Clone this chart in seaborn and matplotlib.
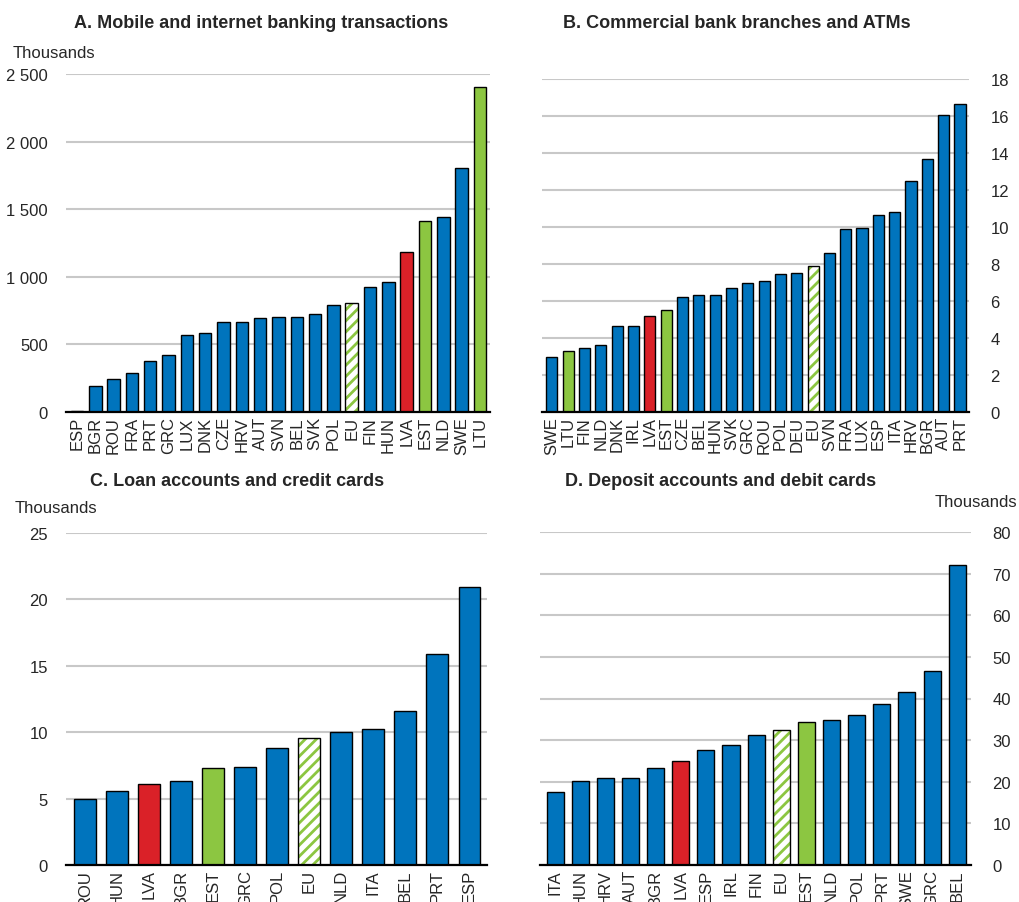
import matplotlib
matplotlib.use("Agg")
import matplotlib.pyplot as plt
import matplotlib.ticker as mticker
from matplotlib.patches import Rectangle
import seaborn as sns

# Panel A: mobile and internet banking transactions (thousands)
a_countries = ['ESP', 'BGR', 'ROU', 'FRA', 'PRT', 'GRC', 'LUX', 'DNK', 'CZE', 'HRV', 'AUT', 'SVN', 'BEL',
               'SVK', 'POL', 'EU', 'FIN', 'HUN', 'LVA', 'EST', 'NLD', 'SWE', 'LTU']
a_values = [5, 190, 242, 289, 380, 422, 572, 587, 666, 668, 696, 703, 705,
            725, 792, 806, 925, 962, 1184, 1413, 1443, 1805, 2404]

# Panel B: commercial bank branches and ATMs
b_countries = ['SWE', 'LTU', 'FIN', 'NLD', 'DNK', 'IRL', 'LVA', 'EST', 'CZE', 'BEL', 'HUN', 'SVK', 'GRC',
               'ROU', 'POL', 'DEU', 'EU', 'SVN', 'FRA', 'LUX', 'ESP', 'ITA', 'HRV', 'BGR', 'AUT', 'PRT']
b_values = [2.96, 3.28, 3.48, 3.62, 4.65, 4.66, 5.19, 5.51, 6.2, 6.3, 6.32, 6.7, 7.0,
            7.1, 7.46, 7.5, 7.9, 8.6, 9.9, 9.95, 10.65, 10.8, 12.47, 13.7, 16.05, 16.66]

# Panel C: loan accounts and credit cards (thousands)
c_countries = ['ROU', 'HUN', 'LVA', 'BGR', 'EST', 'GRC', 'POL', 'EU', 'NLD', 'ITA', 'BEL', 'PRT', 'ESP']
c_values = [5.0, 5.6, 6.1, 6.35, 7.3, 7.35, 8.8, 9.6, 10.05, 10.22, 11.6, 15.9, 20.9]

# Panel D: deposit accounts and debit cards (thousands)
d_countries = ['ITA', 'HUN', 'HRV', 'AUT', 'BGR', 'LVA', 'ESP', 'IRL', 'FIN', 'EU', 'EST', 'NLD', 'POL',
               'PRT', 'SWE', 'GRC', 'BEL']
d_values = [17.5, 20.1, 20.8, 20.9, 23.3, 25.0, 27.6, 28.8, 31.2, 32.4, 34.4, 34.9, 36.1,
            38.7, 41.6, 46.6, 72.1]

BLUE = '#0074BD'
RED = '#DA2128'
GREEN = '#8CC641'
GRID = '#C8C8C8'

sns.set_theme(style='white')
plt.rcParams['font.family'] = ['Liberation Sans', 'DejaVu Sans']
plt.rcParams['hatch.linewidth'] = 2.0

W, H = 1019, 903
fig = plt.figure(figsize=(W / 100, H / 100), dpi=100)


def bar_colour(c):
    if c == 'LVA':
        return RED
    if c in ('EST', 'LTU', 'EU'):
        return GREEN
    return BLUE


def draw_panel(rect, countries, values, ymax, step, right=False, fmt=None):
    ax = fig.add_axes(rect)
    colours = [bar_colour(c) for c in countries]
    sns.barplot(x=countries, y=values, hue=countries, palette=colours, legend=False,
                width=0.68, edgecolor='black', linewidth=1.0, saturation=1, ax=ax, zorder=3)
    # EU bar: white with green diagonal stripes, black outline on top
    for c, p in zip(countries, ax.patches):
        if c == 'EU':
            p.set_facecolor('white')
            p.set_edgecolor(GREEN)
            p.set_hatch('///')
            p.set_linewidth(0)
            ax.add_patch(Rectangle(p.get_xy(), p.get_width(), p.get_height(), fill=False,
                                   edgecolor='black', linewidth=1.0, zorder=4))
    ax.set_ylim(0, ymax)
    ax.set_xlim(-0.6, len(countries) - 0.45)
    ax.yaxis.set_major_locator(mticker.MultipleLocator(step))
    if fmt:
        ax.yaxis.set_major_formatter(mticker.FuncFormatter(fmt))
    ax.grid(axis='y', color=GRID, linewidth=1.5, zorder=0)
    ax.set_axisbelow(True)
    for s in ['top', 'left', 'right']:
        ax.spines[s].set_visible(False)
    ax.spines['bottom'].set_color('black')
    ax.spines['bottom'].set_linewidth(1.6)
    ax.spines['bottom'].set_zorder(5)
    ax.tick_params(axis='x', length=0, pad=3, labelsize=12, rotation=90)
    ax.tick_params(axis='y', length=0, pad=15.5 if right else 13, labelsize=12)
    if right:
        ax.yaxis.tick_right()
    ax.set_xlabel('')
    ax.set_ylabel('')
    return ax


def thousands(v, pos):
    return f'{int(v):,}'.replace(',', ' ')


draw_panel([66 / W, 1 - 413 / H, 424 / W, 338 / H], a_countries, a_values, 2500, 500, fmt=thousands)
draw_panel([542 / W, 1 - 413 / H, 427 / W, 333 / H], b_countries, b_values, 18, 2, right=True)
draw_panel([66 / W, 1 - 866 / H, 421 / W, 332 / H], c_countries, c_values, 25, 5)
draw_panel([540 / W, 1 - 866 / H, 431 / W, 333 / H], d_countries, d_values, 80, 10, right=True)

title_kw = dict(ha='center', va='center', fontsize=13, fontweight='bold')
fig.text(261 / W, 1 - 23 / H, 'A. Mobile and internet banking transactions', **title_kw)
fig.text(737 / W, 1 - 23 / H, 'B. Commercial bank branches and ATMs', **title_kw)
fig.text(237 / W, 1 - 482 / H, 'C. Loan accounts and credit cards', **title_kw)
fig.text(721 / W, 1 - 482 / H, 'D. Deposit accounts and debit cards', **title_kw)

fig.text(13 / W, 1 - 54 / H, 'Thousands', ha='left', va='center', fontsize=12)
fig.text(15 / W, 1 - 509 / H, 'Thousands', ha='left', va='center', fontsize=12)
fig.text(1017 / W, 1 - 503 / H, 'Thousands', ha='right', va='center', fontsize=12)

fig.savefig('out.png', dpi=100)
